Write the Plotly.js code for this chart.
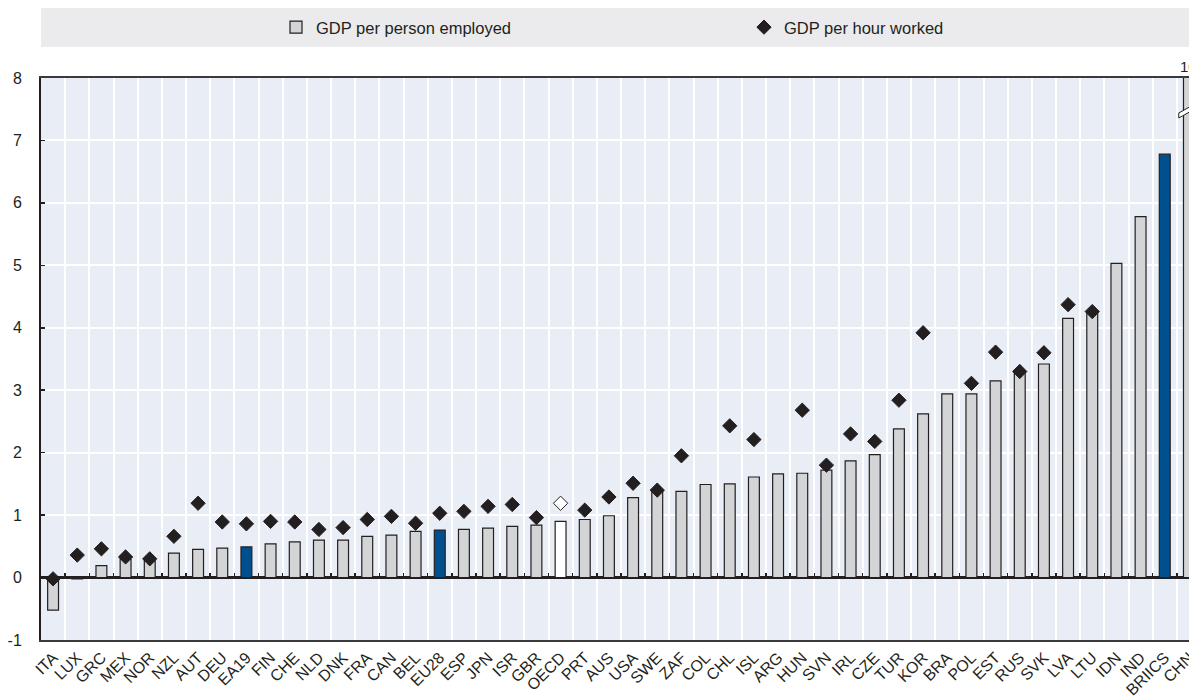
<!DOCTYPE html>
<html>
<head>
<meta charset="utf-8">
<script src="https://cdn.plot.ly/plotly-3.0.1.min.js"></script>
<style>
  html, body { margin: 0; padding: 0; overflow: hidden; background: #ffffff; }
  #chart { width: 1201px; height: 696px; }
</style>
</head>
<body>
<div id="chart"></div>
<script>
// ---- Data ----
const categories = ["ITA","LUX","GRC","MEX","NOR","NZL","AUT","DEU","EA19","FIN","CHE","NLD","DNK",
  "FRA","CAN","BEL","EU28","ESP","JPN","ISR","GBR","OECD","PRT","AUS","USA","SWE","ZAF",
  "COL","CHL","ISL","ARG","HUN","SVN","IRL","CZE","TUR","KOR","BRA","POL","EST","RUS","SVK",
  "LVA","LTU","IDN","IND","BRIICS","CHN"];

const gdpPerPersonEmployed = [-0.52,-0.02,0.19,0.29,0.27,0.39,0.45,0.47,0.49,0.54,0.57,0.60,0.60,
  0.66,0.68,0.74,0.76,0.77,0.79,0.82,0.84,0.90,0.93,0.99,1.28,1.38,1.38,
  1.49,1.50,1.61,1.66,1.67,1.72,1.87,1.97,2.38,2.62,2.94,2.94,3.15,3.29,3.42,
  4.15,4.25,5.03,5.78,6.78,10];

const gdpPerHourWorked = [-0.02,0.36,0.46,0.33,0.30,0.66,1.19,0.89,0.86,0.90,0.89,0.77,0.80,
  0.93,0.98,0.87,1.03,1.06,1.14,1.17,0.96,1.19,1.08,1.29,1.51,1.40,1.95,
  null,2.43,2.21,null,2.68,1.80,2.30,2.18,2.84,3.92,null,3.11,3.61,3.30,3.60,
  4.37,4.26,null,null,null,null];

const yTickValues = [-1,0,1,2,3,4,5,6,7,8];
const aggregateGroups = ["EA19","EU28","BRIICS"];   // highlighted in blue
const oecdGroup = ["OECD"];                          // highlighted in white
const truncatedLabel = "10";                         // value of the truncated CHN bar

// ---- Styles ----
const GREY = "#d3d4d5", BLUE = "#00508f", DARK = "#231f20";
const barColors = categories.map(c => aggregateGroups.includes(c) ? BLUE : (oecdGroup.includes(c) ? "#ffffff" : GREY));
const dotColors = categories.map(c => oecdGroup.includes(c) ? "#ffffff" : DARK);

const FONT = "Liberation Sans, Arial, sans-serif";

const traces = [
  {
    type: "bar", name: "GDP per person employed",
    x: categories, y: gdpPerPersonEmployed,
    xaxis: "x", yaxis: "y",
    width: 0.45,
    marker: { color: barColors, line: { color: DARK, width: 1.2 } },
    hoverinfo: "x+y"
  },
  {
    type: "scatter", mode: "markers", name: "GDP per hour worked",
    x: categories, y: gdpPerHourWorked,
    xaxis: "x2", yaxis: "y",
    marker: { symbol: "diamond", size: 11, color: dotColors, line: { color: DARK, width: 1 } },
    hoverinfo: "x+y"
  }
];

const yMin = -1, yMax = 8;
const lastIdx = categories.length - 1;

const layout = {
  width: 1201, height: 696,
  margin: { l: 41, r: 0, t: 78, b: 56, autoexpand: false },
  paper_bgcolor: "#ffffff",
  plot_bgcolor: "#e9eef6",
  font: { family: FONT, size: 15, color: "#231f20" },
  showlegend: true,
  legend: {
    orientation: "h", x: (276 - 41) / 1160, xanchor: "left", y: 1.09, yanchor: "middle",
    bgcolor: "rgba(0,0,0,0)", font: { family: FONT, size: 16.5, color: "#231f20" },
    entrywidth: 423, entrywidthmode: "pixels", itemclick: false
  },
  bargap: 0.5,
  xaxis: {
    type: "category", categoryorder: "array", categoryarray: categories,
    range: [-0.5, lastIdx + 0.5],
    tickson: "boundaries", ticks: "", showgrid: true, gridcolor: "#ffffff", gridwidth: 2,
    tickangle: -45, tickfont: { family: FONT, size: 16, color: "#231f20" },
    showline: true, linecolor: "#3a3a3a", linewidth: 2, mirror: true,
    zeroline: false, fixedrange: true, automargin: false
  },
  xaxis2: {
    type: "category", categoryorder: "array", categoryarray: categories,
    overlaying: "x", anchor: "free", position: (0 - yMin) / (yMax - yMin), side: "bottom",
    matches: "x",
    tickson: "boundaries", ticks: "inside", ticklen: 5, tickwidth: 1.5, tickcolor: DARK,
    showticklabels: false, showgrid: false, showline: false, zeroline: false
  },
  yaxis: {
    range: [yMin, yMax], tickvals: yTickValues, ticktext: yTickValues.map(String),
    showgrid: true, gridcolor: "#ffffff", gridwidth: 2,
    ticks: "inside", ticklen: 4, tickwidth: 1.5, tickcolor: DARK,
    ticklabelstandoff: 14,
    tickfont: { family: FONT, size: 16, color: "#231f20" },
    zeroline: true, zerolinecolor: DARK, zerolinewidth: 2.5,
    showline: true, linecolor: DARK, linewidth: 2, mirror: true, fixedrange: true, automargin: false
  },
  shapes: [
    // legend band
    { type: "rect", xref: "paper", yref: "paper", x0: 0, x1: 1.02,
      y0: (640 - 47) / 562, y1: (640 - 8) / 562,
      fillcolor: "#ebebed", line: { width: 0 }, layer: "below" },
    // axis-break mark on the truncated bar
    { type: "path", xref: "x", yref: "y",
      path: `M ${lastIdx - 0.42},7.44 L ${lastIdx + 0.42},7.62 L ${lastIdx + 0.42},7.54 L ${lastIdx - 0.42},7.36 Z`,
      fillcolor: "#ffffff", line: { color: DARK, width: 1 } }
  ],
  annotations: [
    { x: categories[lastIdx], y: yMax, xref: "x", yref: "y", yanchor: "bottom", xanchor: "center",
      text: truncatedLabel, showarrow: false, yshift: 1,
      font: { family: FONT, size: 15, color: "#231f20" } }
  ]
};

Plotly.newPlot("chart", traces, layout, { displayModeBar: false, staticPlot: true });
</script>
</body>
</html>
